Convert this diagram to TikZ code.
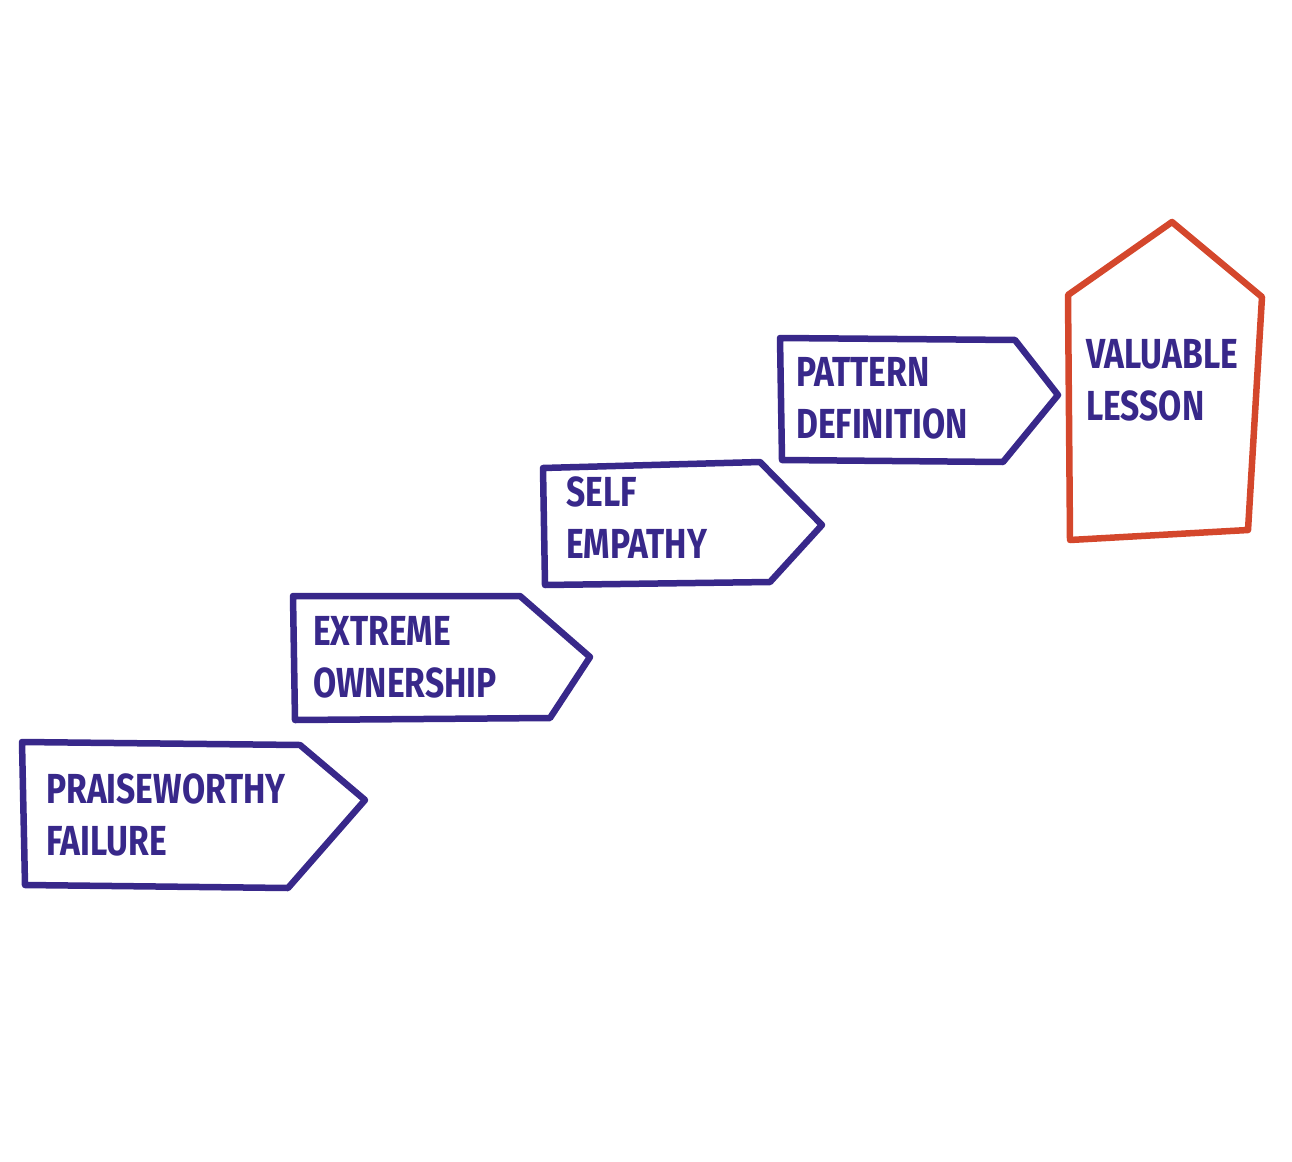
\documentclass[tikz,border=0pt]{standalone}
\usepackage{fontspec}
\setmainfont{Fira Sans}
\definecolor{ink}{HTML}{38288A}
\definecolor{rd}{HTML}{D4472C}
\begin{document}
\begin{tikzpicture}[x=1pt,y=-1pt,
  box/.style={draw=ink,line width=6.5pt,line join=round},
  lbl/.style={text=ink,anchor=west,align=left,font=\fontsize{42}{52}\selectfont\bfseries,inner sep=0pt,xscale=0.8}]
\useasboundingbox (0,0) rectangle (1292,1161);
\draw[box] (22,742) -- (300,745) -- (365,800) -- (288,888) -- (25,885) -- cycle;
\draw[box] (293,596) -- (520,596) -- (590,657) -- (550,718) -- (295,720) -- cycle;
\draw[box] (543,468) -- (760,462) -- (822,525) -- (770,582) -- (545,585) -- cycle;
\draw[box] (780,338) -- (1015,340) -- (1058,395) -- (1003,462) -- (782,460) -- cycle;
\draw[box,draw=rd] (1068,295) -- (1172,222) -- (1262,297) -- (1248,530) -- (1070,540) -- cycle;
\node[lbl] (a) at (46,815) {PRAISEWORTHY\\FAILURE};
\node[lbl] (b) at (313,657) {EXTREME\\OWNERSHIP};
\node[lbl] (c) at (566,518) {SELF\\EMPATHY};
\node[lbl] (d) at (796,398) {PATTERN\\DEFINITION};
\node[lbl] (e) at (1086,380) {VALUABLE\\LESSON};
\end{tikzpicture}
\end{document}
